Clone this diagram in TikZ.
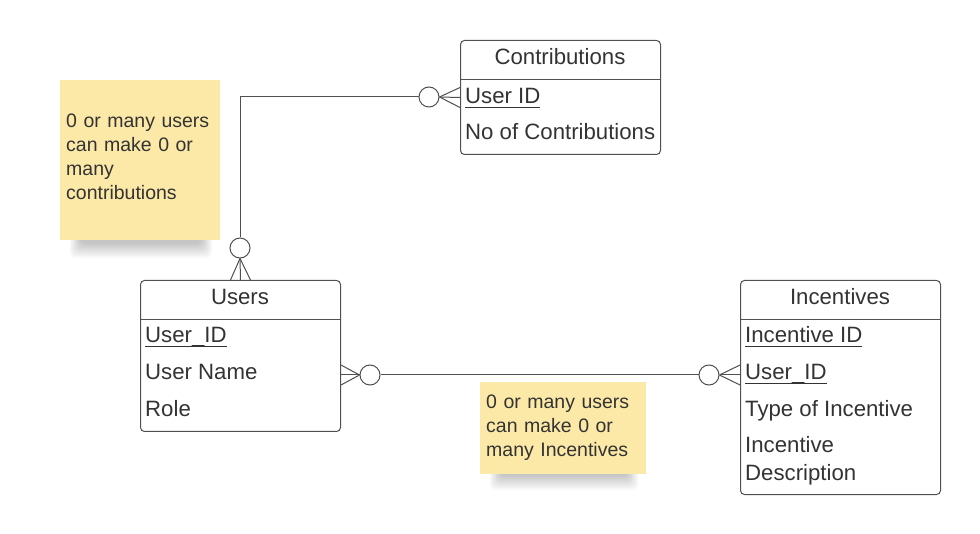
\documentclass[tikz,border=0pt]{standalone}
\usepackage{fontspec}
\setmainfont{Liberation Sans}
\usetikzlibrary{positioning}

\definecolor{inkgray}{HTML}{333333}
\definecolor{linegray}{HTML}{505050}
\definecolor{notecol}{HTML}{FCE9A8}

% underlined key attribute
\newcommand{\keyline}[1]{\setbox0=\hbox{#1}\rlap{\rule[-4.5pt]{\wd0}{1.7pt}}\box0}

\tikzset{
  entity/.style={draw=linegray, line width=1pt, rounded corners=4pt, anchor=north west, inner sep=0pt},
  ttl/.style={font=\fontsize{22.2}{26}\selectfont, text=inkgray, anchor=base, inner sep=0pt},
  attr/.style={font=\fontsize{22.2}{26}\selectfont, text=inkgray, anchor=base west, inner sep=0pt},
  note/.style={fill=notecol, anchor=north west, align=left, inner xsep=6pt, inner ysep=0pt,
    font=\fontsize{19.5}{24}\selectfont, text=inkgray},
  zero/.style={draw=linegray, line width=1pt, circle, minimum size=20pt, inner sep=0pt, fill=white},
  link/.style={draw=linegray, line width=1pt},
}

\begin{document}
\begin{tikzpicture}[x=1pt,y=-1pt]
    \useasboundingbox[fill=white] (0,0) rectangle (980,534);

    % soft shadows of the notes
    \foreach \i in {0,...,9} {
        \fill[black,opacity=0.025,rounded corners=5pt] (70+1.2*\i,220) rectangle (212-1.2*\i,258-1.6*\i);
        \fill[black,opacity=0.025,rounded corners=5pt] (490+1.2*\i,450) rectangle (638-1.2*\i,490-1.6*\i);
    }

    % notes
    \node[note, text width=148pt, minimum height=160pt, text depth=80pt] (note1) at (60,80)
        {0 or many users\\can make 0 or\\many\\contributions};
    \node[note, text width=154pt, minimum height=92pt] (note2) at (480,382)
        {0 or many users\\can make 0 or\\many Incentives};

    % entities
    \node[entity, minimum width=200pt, minimum height=114pt] (contrib) at (460,40) {};
    \node[entity, minimum width=200pt, minimum height=151pt] (users) at (140,280) {};
    \node[entity, minimum width=200pt, minimum height=214pt] (incent) at (740,280) {};

    \draw[link] ([yshift=-40pt]contrib.north west) -- ([yshift=-40pt]contrib.north east);
    \draw[link] ([yshift=-40pt]users.north west) -- ([yshift=-40pt]users.north east);
    \draw[link] ([yshift=-40pt]incent.north west) -- ([yshift=-40pt]incent.north east);

    \node[ttl] (contrib-t) at (560,65) {Contributions};
    \node[attr] (contrib-uid) at (465,104) {\keyline{User ID}};
    \node[attr] (contrib-no) at (465,140) {No of Contributions};

    \node[ttl] (users-t) at (240,305) {Users};
    \node[attr] (users-uid) at (145,343) {\keyline{User\_ID}};
    \node[attr] (users-name) at (145,380) {User Name};
    \node[attr] (users-role) at (145,417) {Role};

    \node[ttl] (incent-t) at (840,305) {Incentives};
    \node[attr] (incent-id) at (745,343) {\keyline{Incentive ID}};
    \node[attr] (incent-uid) at (745,380) {\keyline{User\_ID}};
    \node[attr] (incent-type) at (745,417) {Type of Incentive};
    \node[attr] (incent-desc1) at (745,453) {Incentive};
    \node[attr] (incent-desc2) at (745,480) {Description};

    % zero-or-many markers
    \node[zero] (z1) at (240,248) {};
    \node[zero] (z2) at (429,97) {};
    \node[zero] (z3) at (370,375) {};
    \node[zero] (z4) at (709,375) {};

    \coordinate (ueast) at (users.east |- z3);
    \coordinate (iwest) at (incent.west |- z4);

    % relationships
    \draw[link] (z1.north) |- (z2.west);
    \draw[link] (z3.east) -- (z4.west);

    \foreach \d in {-10,0,10} {
        \draw[link] (z1.south) -- ([xshift=\d pt]users.north);
        \draw[link] (z2.east) -- ([yshift=\d pt]contrib.west);
        \draw[link] (z3.west) -- ([yshift=\d pt]ueast);
        \draw[link] (z4.east) -- ([yshift=\d pt]iwest);
    }
\end{tikzpicture}
\end{document}
